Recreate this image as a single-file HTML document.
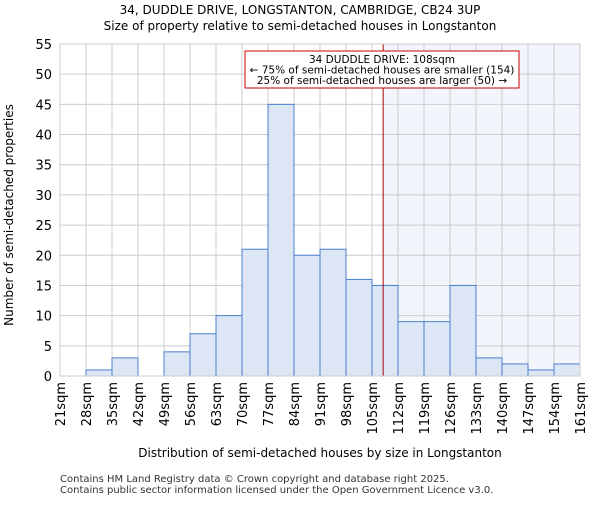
<!DOCTYPE html>
<html><head><meta charset="utf-8"><style>body{margin:0;background:#fff}svg{font-family:"DejaVu Sans","Liberation Sans",sans-serif}</style></head>
<body>
<svg id="c" width="600" height="500" xmlns="http://www.w3.org/2000/svg">
<text x="300" y="14" font-size="12" text-anchor="middle">34, DUDDLE DRIVE, LONGSTANTON, CAMBRIDGE, CB24 3UP</text>
<text x="300" y="30" font-size="12" text-anchor="middle">Size of property relative to semi-detached houses in Longstanton</text>
<g id="plot"></g>
<text x="320" y="457" font-size="12" text-anchor="middle">Distribution of semi-detached houses by size in Longstanton</text>
<text transform="translate(13,215) rotate(-90)" font-size="12" text-anchor="middle">Number of semi-detached properties</text>
<text x="60" y="482" font-size="10" fill="#333">Contains HM Land Registry data © Crown copyright and database right 2025.</text>
<text x="60" y="493" font-size="10" fill="#333">Contains public sector information licensed under the Open Government Licence v3.0.</text>
</svg>
<script>
const binLabels=["21sqm","28sqm","35sqm","42sqm","49sqm","56sqm","63sqm","70sqm","77sqm","84sqm","91sqm","98sqm","105sqm","112sqm","119sqm","126sqm","133sqm","140sqm","147sqm","154sqm","161sqm"];
const binEdges=[21,28,35,42,49,56,63,70,77,84,91,98,105,112,119,126,133,140,147,154,161];
const counts=[0,1,3,0,4,7,10,21,45,20,21,16,15,9,9,15,3,2,1,2];
const yTicks=[0,5,10,15,20,25,30,35,40,45,50,55];
const propertySize=108;
const NS="http://www.w3.org/2000/svg";
const L=60,R=580,T=44,B=376;
const x=v=>L+(v-binEdges[0])/(binEdges[binEdges.length-1]-binEdges[0])*(R-L);
const y=v=>B-v/55*(B-T);
const g=document.getElementById('plot');
function mk(t,a,p){const e=document.createElementNS(NS,t);for(const k in a)e.setAttribute(k,a[k]);(p||g).appendChild(e);return e;}
let e=mk('rect',{x:x(propertySize),y:T,width:R-x(propertySize),height:B-T,fill:'#f2f5fc'});


yTicks.forEach(v=>{
 let l=mk('line',{x1:L,x2:R,y1:y(v),y2:y(v),stroke:'#ccc','stroke-width':1});
 
 
 let t=mk('text',{x:L-8,y:y(v)+5,'font-size':13,'text-anchor':'end'});t.textContent=v;
 
 
});
binEdges.forEach((v,i)=>{
 let l=mk('line',{x1:x(v),x2:x(v),y1:T,y2:B,stroke:'#ccc','stroke-width':1});
 
 
 let t=mk('text',{transform:`translate(${x(v)+5},${B+6}) rotate(-90)`,'font-size':13,'text-anchor':'end'});t.textContent=binLabels[i];
 
 
});
counts.forEach((c,i)=>{
 if(!c)return;
 let r=mk('rect',{x:x(binEdges[i]),y:y(c),width:x(binEdges[i+1])-x(binEdges[i]),height:B-y(c),fill:'#dce6f4',stroke:'#4a7fd0','stroke-width':1});
 
 
});
e=mk('line',{x1:x(propertySize),x2:x(propertySize),y1:T,y2:B,stroke:'#aa0000','stroke-width':1});


e=mk('rect',{x:245,y:51,width:274,height:37,fill:'#fff',stroke:'#cc0000','stroke-width':1});


["34 DUDDLE DRIVE: 108sqm","← 75% of semi-detached houses are smaller (154)","25% of semi-detached houses are larger (50) →"].forEach((s,i)=>{
 let t=mk('text',{x:382,y:63+i*10.5,'font-size':10.5,'text-anchor':'middle'});t.textContent=s;
 
 
});
e=mk('rect',{x:L,y:T,width:R-L,height:B-T,fill:'none',stroke:'#ccc'});


</script>
</body></html>
